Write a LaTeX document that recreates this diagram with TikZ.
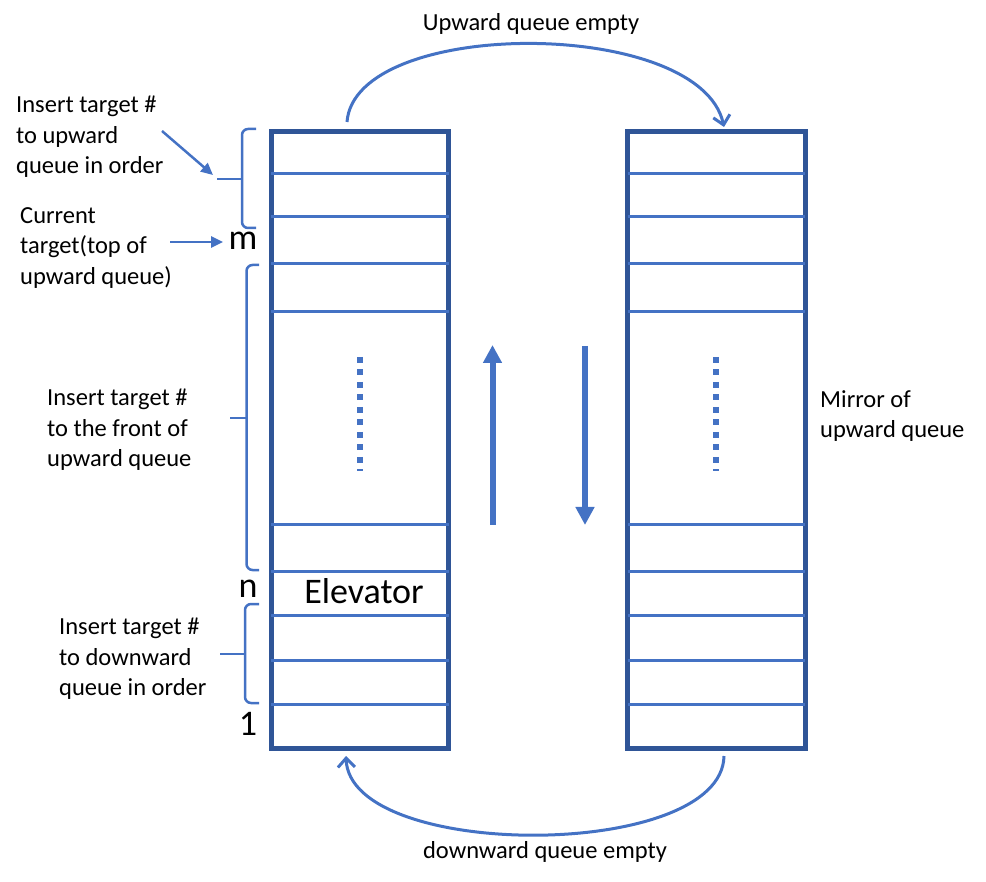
\documentclass[tikz,border=0pt]{standalone}
\usepackage{fontspec}
\setmainfont{Carlito}
\usetikzlibrary{arrows.meta}
\definecolor{boxblue}{HTML}{2F5597}
\definecolor{lineblue}{HTML}{4472C4}
\begin{document}
\begin{tikzpicture}[x=1pt,y=-1pt,
  shaft/.style={draw=boxblue,line width=5pt,inner sep=0pt,minimum width=177.5pt,minimum height=617pt},
  floorline/.style={draw=lineblue,line width=3pt},
  dotline/.style={draw=lineblue,line width=6pt,dash pattern=on 6pt off 6.5pt},
  bigarrow/.style={draw=lineblue,line width=6pt,-{Triangle[length=18pt,width=18pt]}},
  looparc/.style={draw=lineblue,line width=3pt,-{Straight Barb[length=9pt,width=17pt]}},
  lblarrow/.style={draw=lineblue,line width=2.5pt,-{Triangle[length=12pt,width=11pt]}},
  bracepath/.style={draw=lineblue,line width=2.5pt,rounded corners=6pt},
  lbl/.style={font=\fontsize{24.5}{30.5}\selectfont,inner sep=0pt,align=left,anchor=north west},
  captext/.style={font=\fontsize{24.5}{30.5}\selectfont,inner sep=0pt,anchor=base},
  bigtext/.style={font=\fontsize{36}{40}\selectfont,inner sep=0pt,anchor=base}]
\useasboundingbox (0,0) rectangle (986,882);
% shafts
\node[shaft] (L) at (359.75,440) {};
\node[shaft] (R) at (716.5,440) {};
% floors
\foreach \yy in {174,217,264,312,525,571,615,660,704}{
  \draw[floorline] ([xshift=2.5pt]L.west |- 0,\yy) -- ([xshift=-2.5pt]L.east |- 0,\yy);
  \draw[floorline] ([xshift=2.5pt]R.west |- 0,\yy) -- ([xshift=-2.5pt]R.east |- 0,\yy);
}
% dotted
\coordinate (d1a) at (360,357); \coordinate (d1b) at (360,471);
\coordinate (d2a) at (716,357); \coordinate (d2b) at (716,471);
\draw[dotline] (d1a) -- (d1b);
\draw[dotline] (d2a) -- (d2b);
% direction arrows
\coordinate (ua) at (492.5,525); \coordinate (ub) at (492.5,345);
\coordinate (da) at (585,346); \coordinate (db) at (585,525);
\draw[bigarrow] (ua) -- (ub);
\draw[bigarrow] (da) -- (db);
% arcs
\coordinate (ta) at (347,122); \coordinate (tb) at (724,127);
\draw[looparc] (ta) .. controls (355,17) and (700,17) .. (tb);
\coordinate (ba) at (724,756); \coordinate (bb) at (346,756);
\draw[looparc] (ba) .. controls (722,861) and (350,861) .. (bb);
\node[captext] (tt) at (531,31) {Upward queue empty};
\node[captext] (bt) at (545,858) {downward queue empty};
% braces
\draw[bracepath] (256,129) -- (242,129) -- (242,228) -- (256,228);
\draw[bracepath] (242,179) -- (217,179);
\draw[bracepath] (259,265) -- (246.5,265) -- (246.5,570) -- (259,570);
\draw[bracepath] (246.5,418) -- (230,418);
\draw[bracepath] (259,604) -- (245,604) -- (245,703) -- (259,703);
\draw[bracepath] (245,654) -- (220,654);
% labels
\node[lbl] (l1) at (16,96) {Insert target \#\\to upward\\queue in order};
\node[lbl] (l2) at (20,207) {Current\\target(top of\\upward queue)};
\node[lbl] (l3) at (47,389) {Insert target \#\\to the front of\\upward queue};
\node[lbl] (l4) at (59,618) {Insert target \#\\to downward\\queue in order};
\node[lbl] (mir) at (820,390) {Mirror of\\upward queue};
\coordinate (a1a) at (162,131); \coordinate (a1b) at (213,175);
\draw[lblarrow] (a1a) -- (a1b);
\coordinate (a2a) at (170,242); \coordinate (a2b) at (223,242);
\draw[lblarrow] (a2a) -- (a2b);
% floor marks
\node[bigtext] (m) at (243,250) {m};
\node[bigtext] (n) at (248,597) {n};
\node[bigtext] (one) at (248,735) {1};
\node[bigtext] (elev) at (364,603) {Elevator};
\end{tikzpicture}
\end{document}
